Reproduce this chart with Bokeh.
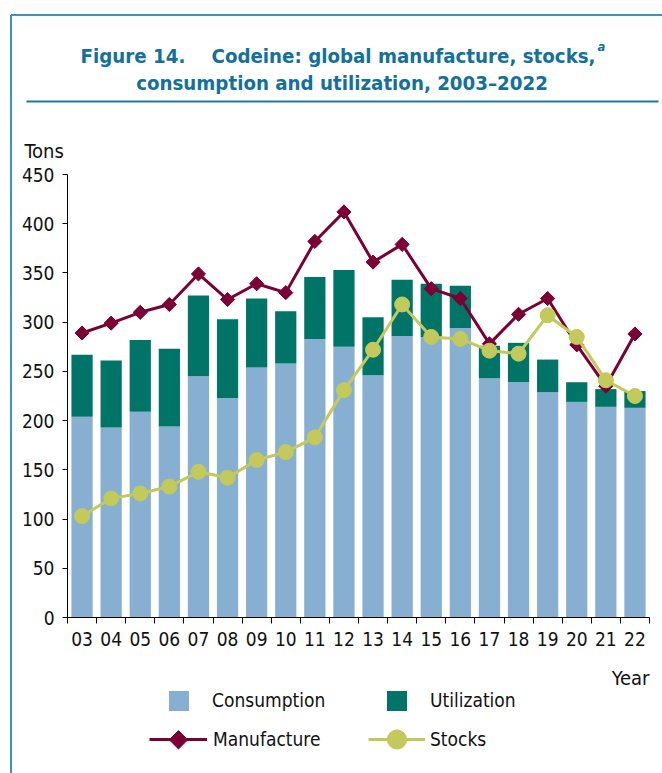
import numpy as np
from bokeh.plotting import figure
from bokeh.models import (ColumnDataSource, Range1d, FixedTicker, Label,
                          Legend, LegendItem)
from bokeh.embed import file_html
from bokeh.resources import INLINE

# ---------------- data ----------------
years = ["03", "04", "05", "06", "07", "08", "09", "10", "11", "12",
         "13", "14", "15", "16", "17", "18", "19", "20", "21", "22"]
consumption = [204, 193, 209, 194, 245, 223, 254, 258, 283, 275,
               246, 286, 285, 294, 243, 239, 229, 219, 214, 213]
utilization = [63, 68, 73, 79, 82, 80, 70, 53, 63, 78,
               59, 57, 54, 43, 33, 40, 33, 20, 18, 17]
manufacture = [289, 299, 310, 318, 349, 323, 339, 330, 382, 412,
               361, 379, 334, 324, 278, 308, 324, 277, 235, 288]
stocks = [103, 121, 126, 133, 148, 142, 160, 168, 183, 231,
          272, 318, 285, 283, 271, 268, 307, 285, 241, 225]
y_ticks = [0, 50, 100, 150, 200, 250, 300, 350, 400, 450]
Y_MAX = 450

FONT = "DejaVu Sans Condensed, Roboto Condensed, Liberation Sans Narrow, Roboto"
C_CONS = "#86AFD1"
C_UTIL = "#007567"
C_MANU = "#7A0035"
C_STOCK = "#C3C95A"
C_TITLE = "#13709D"
C_FRAME = "#3A93C8"
C_RULE = "#1D76A3"
C_TEXT = "#111111"

W, H = 662, 773
n = len(years)
xs = np.arange(n) + 0.5

# plot-area geometry in canvas pixels
AX_L, AX_R = 67.0, 649.0     # x pixels of category edge 0 .. n
AX_B, AX_T = 617.0, 174.0    # y pixels of 0 .. Y_MAX
PX_X = (AX_R - AX_L) / n
PX_Y = (AX_B - AX_T) / Y_MAX

def dx(px):
    return (px - AX_L) / PX_X

def dy(py):
    return (AX_B - py) / PX_Y

p = figure(width=W, height=H,
           x_range=Range1d(dx(0), dx(W)), y_range=Range1d(dy(H), dy(0)),
           output_backend="svg", toolbar_location=None, title=None,
           min_border=0)
p.xgrid.visible = False
p.ygrid.visible = False
p.outline_line_color = None
p.background_fill_color = "white"
p.border_fill_color = "white"

src = ColumnDataSource(dict(x=xs, consumption=consumption, utilization=utilization,
                            manufacture=manufacture, stocks=stocks))

bars = p.vbar_stack(["consumption", "utilization"], x="x", width=0.73,
                    fill_color=[C_CONS, C_UTIL], line_color=None, source=src)

m_line = p.line("x", "manufacture", source=src, line_color=C_MANU, line_width=3)
m_pts = p.scatter("x", "manufacture", source=src, marker="square", angle=np.pi / 4,
                  size=10, fill_color=C_MANU, line_color=C_MANU)
s_line = p.line("x", "stocks", source=src, line_color=C_STOCK, line_width=3)
s_pts = p.scatter("x", "stocks", source=src, marker="circle", size=15,
                  fill_color=C_STOCK, line_color=C_STOCK)

# ---------------- axes (fixed inside the full-canvas frame) ----------------
xa = p.xaxis[0]
xa.fixed_location = 0
xa.bounds = (0, n)
xa.ticker = FixedTicker(ticks=list(xs), minor_ticks=list(range(n + 1)))
xa.major_label_overrides = {float(x): y for x, y in zip(xs, years)}
xa.major_tick_line_color = None
xa.major_tick_out = 0
xa.major_tick_in = 0
xa.minor_tick_out = 6
xa.minor_tick_in = 0
xa.minor_tick_line_color = "black"
xa.major_label_standoff = 8
xa.axis_line_color = "black"

ya = p.yaxis[0]
ya.fixed_location = 0
ya.bounds = (0, Y_MAX)
ya.ticker = FixedTicker(ticks=y_ticks)
ya.major_tick_out = 5
ya.major_tick_in = 0
ya.minor_tick_line_color = None
ya.major_label_standoff = 8
ya.axis_line_color = "black"

for ax in (xa, ya):
    ax.major_label_text_font = FONT
    ax.major_label_text_font_size = "19px"
    ax.major_label_text_color = C_TEXT

# ---------------- texts ----------------
def lab(text, x, y, size, align="left", color=C_TEXT, style="normal"):
    p.add_layout(Label(x=dx(x), y=dy(y), text=text, text_font=FONT,
                       text_font_size=size, text_align=align,
                       text_baseline="alphabetic", text_color=color,
                       text_font_style=style))

lab("Tons", 24, 150, "20px")
lab("Year", 649, 677, "20px", align="right")
lab("Figure 14.", 80, 55, "20.3px", color=C_TITLE, style="bold")
lab("Codeine: global manufacture, stocks,", 211, 55, "20.3px", color=C_TITLE, style="bold")
lab("a", 597, 46, "13px", color=C_TITLE, style="bold italic")
lab("consumption and utilization, 2003\u20132022", 341.5, 82, "20.3px", align="center",
    color=C_TITLE, style="bold")

# frame and rule lines
p.segment(x0=[dx(10.5), dx(10.5)], y0=[dy(14.5), dy(14.5)],
          x1=[dx(10.5), dx(700)], y1=[dy(800), dy(14.5)],
          line_color=C_FRAME, line_width=2)
p.segment(x0=[dx(26)], y0=[dy(101)], x1=[dx(658)], y1=[dy(101)],
          line_color=C_RULE, line_width=2)

# ---------------- legend ----------------
def mk_legend(label, renderers, gw, gh, left_px, bottom_px, standoff):
    lg = Legend(items=[LegendItem(label=label, renderers=renderers)],
                location=(left_px, H - bottom_px), orientation="horizontal",
                glyph_width=gw, glyph_height=gh, label_standoff=standoff,
                padding=0, margin=0, spacing=0, border_line_color=None,
                background_fill_alpha=0, label_text_font=FONT,
                label_text_font_size="19px", label_text_color=C_TEXT)
    p.add_layout(lg)

mk_legend("Consumption", [bars[0]], 25, 25, 166, 712.7, 21)
mk_legend("Utilization", [bars[1]], 25, 25, 384, 712.7, 21)
mk_legend("Manufacture", [m_line], 58, 24, 149, 751.3, 6)
mk_legend("Stocks", [s_line, s_pts], 57, 48, 368, 763.3, 5)
# diamond symbol of the Manufacture legend entry (legend ignores marker angle)
p.scatter(x=[dx(178)], y=[dy(739.3)], marker="square", angle=np.pi / 4, size=13,
          fill_color=C_MANU, line_color=C_MANU)

open("out.html", "w").write(file_html(p, INLINE))
